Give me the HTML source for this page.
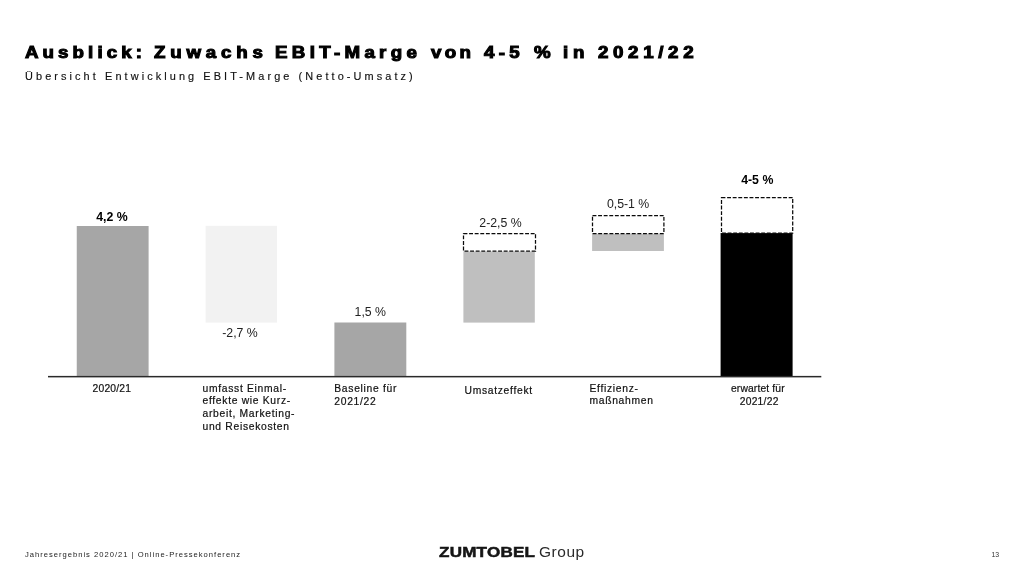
<!DOCTYPE html>
<html lang="de">
<head>
<meta charset="utf-8">
<title>Ausblick: Zuwachs EBIT-Marge</title>
<style>
html,body{margin:0;padding:0;background:#fff;}
body{width:1024px;height:576px;position:relative;overflow:hidden;font-family:"Liberation Sans",sans-serif;color:#000;}
.abs{position:absolute;white-space:nowrap;}
#title{left:25px;top:43.3px;width:700px;height:20px;font-size:15.8px;font-weight:bold;line-height:20px;-webkit-text-stroke:1.0px #000;}
#title span{position:absolute;top:0;transform:scaleX(1.185);transform-origin:0 0;}
#sub{left:25px;top:69.8px;font-size:10.6px;letter-spacing:3.0px;line-height:12px;color:#111;-webkit-text-stroke:0.15px #111;transform:scaleX(1.03);transform-origin:0 0;}
.val{position:absolute;font-size:12.3px;line-height:14px;text-align:center;white-space:nowrap;color:#222;transform:translateX(-50%);}
.val.b{font-weight:bold;color:#000;}
.lab{position:absolute;font-size:10.3px;line-height:12.7px;letter-spacing:0.7px;color:#111;white-space:nowrap;margin:0.7px 0 0 0.5px;-webkit-text-stroke:0.2px #111;}
#foot{left:25px;top:549.9px;font-size:7.6px;letter-spacing:1px;color:#222;line-height:10px;}
#logo1{left:439px;top:544px;font-size:14.2px;font-weight:bold;line-height:16px;color:#151515;letter-spacing:0.2px;-webkit-text-stroke:0.5px #151515;transform:scaleX(1.2);transform-origin:0 0;}
#logo2{left:539px;top:544px;font-size:14.6px;line-height:16px;color:#2a2a2a;letter-spacing:0.5px;transform:scaleX(1.06);transform-origin:0 0;}
#pg{left:991.5px;top:551.4px;font-size:6.9px;line-height:8px;color:#333;}
</style>
</head>
<body>
<div id="title" class="abs"><span style="left:0.34px;letter-spacing:3.44px;">Ausblick:</span> <span style="left:129.00px;letter-spacing:4.04px;">Zuwachs</span> <span style="left:250.05px;letter-spacing:3.65px;">EBIT-Marge</span> <span style="left:406.25px;letter-spacing:2.84px;">von</span> <span style="left:459.34px;letter-spacing:3.65px;">4-5</span> <span style="left:508.75px;letter-spacing:3.50px;">%</span> <span style="left:538.14px;letter-spacing:4.01px;">in</span> <span style="left:572.66px;letter-spacing:3.92px;">2021/22</span></div>
<div id="sub" class="abs">Übersicht Entwicklung EBIT-Marge (Netto-Umsatz)</div>

<svg id="chart" width="1024" height="576" viewBox="0 0 1024 576" style="position:absolute;left:0;top:0;">
<rect x="76.75" y="226" width="71.85" height="150.6" fill="#a6a6a6"/>
<rect x="205.6" y="225.8" width="71.4" height="96.8" fill="#f2f2f2"/>
<rect x="334.4" y="322.5" width="71.9" height="54" fill="#a6a6a6"/>
<rect x="463.4" y="251.3" width="71.4" height="71.3" fill="#bfbfbf"/>
<rect x="592.1" y="233.5" width="71.8" height="17.5" fill="#bfbfbf"/>
<rect x="720.6" y="233" width="72" height="143.6" fill="#000"/>
<g fill="#fff" stroke="#0a0a0a" stroke-width="1.25" stroke-dasharray="3.9 1.7">
<rect x="463.5" y="233.5" width="72" height="17.7"/>
<rect x="592.5" y="215.5" width="71.4" height="18"/>
<rect x="721.5" y="197.5" width="71.2" height="35.6"/>
</g>
<rect x="48" y="375.9" width="773.3" height="1.5" fill="#2a2a2a"/>
</svg>

<div class="val b" style="left:111.9px;top:210.2px;">4,2 %</div>
<div class="val" style="left:240px;top:326.1px;">-2,7 %</div>
<div class="val" style="left:370.3px;top:305.1px;">1,5 %</div>
<div class="val" style="left:500.5px;top:216px;">2-2,5 %</div>
<div class="val" style="left:628.1px;top:196.6px;">0,5-1 %</div>
<div class="val b" style="left:757.25px;top:172.8px;">4-5 %</div>

<div class="lab" style="left:111.4px;top:382px;letter-spacing:0.2px;transform:translateX(-50%);">2020/21</div>
<div class="lab" style="left:202px;top:382px;">umfasst Einmal-<br>effekte wie Kurz-<br>arbeit, Marketing-<br>und Reisekosten</div>
<div class="lab" style="left:333.8px;top:381.7px;line-height:13.1px;">Baseline für<br>2021/22</div>
<div class="lab" style="left:464px;top:384.4px;">Umsatzeffekt</div>
<div class="lab" style="left:589px;top:382px;">Effizienz-<br>maßnahmen</div>
<div class="lab" style="left:757.4px;top:382px;text-align:center;letter-spacing:0.15px;line-height:12.9px;transform:translateX(-50%);">erwartet für<br><span style="margin-left:2.6px;letter-spacing:0.25px;">2021/22</span></div>

<div id="foot" class="abs">Jahresergebnis 2020/21 | Online-Pressekonferenz</div>
<div id="logo1" class="abs">ZUMTOBEL</div>
<div id="logo2" class="abs">Group</div>
<div id="pg" class="abs">13</div>
</body>
</html>
